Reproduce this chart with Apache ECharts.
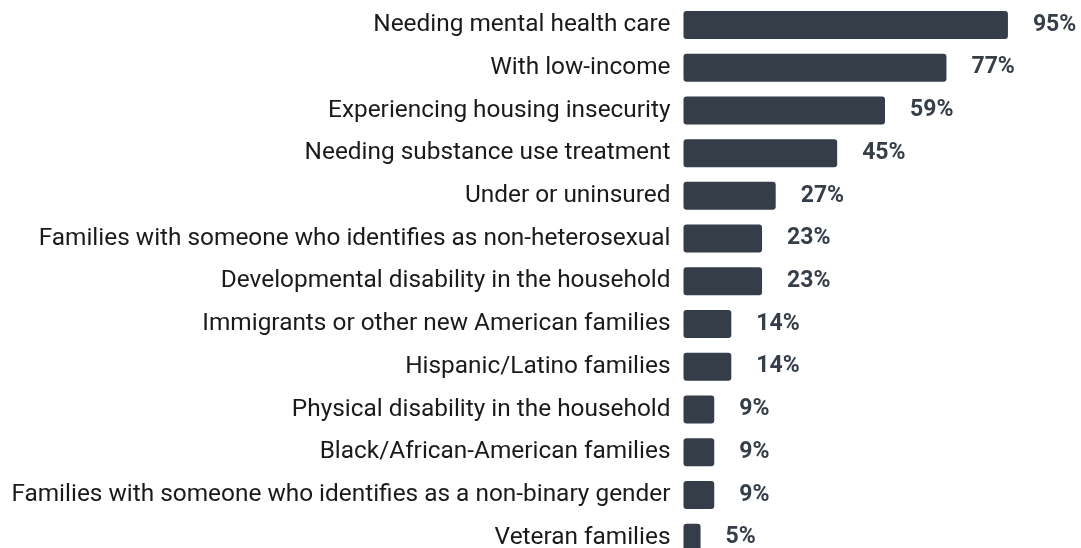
<!DOCTYPE html>
<html><head><meta charset="utf-8">
<script src="https://cdn.jsdelivr.net/npm/echarts@6/dist/echarts.min.js"></script>
<style>html,body{margin:0;padding:0;background:#fff}#c{width:1081px;height:548px}</style>
</head><body><div id="c"></div>
<script>
const categories = [
  "Needing mental health care",
  "With low-income",
  "Experiencing housing insecurity",
  "Needing substance use treatment",
  "Under or uninsured",
  "Families with someone who identifies as non-heterosexual",
  "Developmental disability in the household",
  "Immigrants or other new American families",
  "Hispanic/Latino families",
  "Physical disability in the household",
  "Black/African-American families",
  "Families with someone who identifies as a non-binary gender",
  "Veteran families"
];
const values = [95, 77, 59, 45, 27, 23, 23, 14, 14, 9, 9, 9, 5];

const chart = echarts.init(document.getElementById('c'), null, {renderer: 'canvas'});
chart.setOption({
  animation: false,
  grid: {left: 683.5, width: 341.5, top: 3.6, height: 555.4, containLabel: false, outerBoundsMode: 'none'},
  xAxis: {type: 'value', min: 0, max: 100, show: false},
  yAxis: {
    type: 'category', inverse: true, data: categories,
    axisLine: {show: false}, axisTick: {show: false},
    axisLabel: {color: '#1a1a1a', fontFamily: 'Roboto', fontSize: 24.4, margin: 13}
  },
  series: [{
    type: 'bar', data: values, barWidth: 28,
    itemStyle: {color: '#343d48', borderRadius: 3},
    label: {
      show: true, position: 'right', distance: 25,
      formatter: p => p.value + '%',
      color: '#353e49', fontFamily: 'Roboto', fontWeight: 'bold', fontSize: 23
    }
  }]
});
</script></body></html>
